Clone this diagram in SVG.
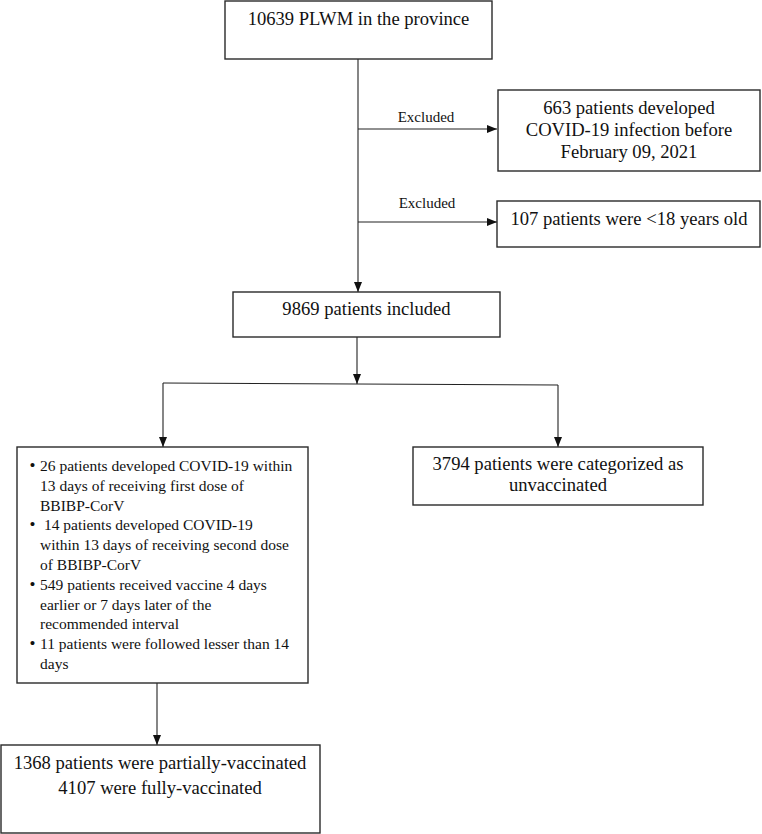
<svg xmlns="http://www.w3.org/2000/svg" width="762" height="834" viewBox="0 0 762 834">
<style>
  .box { fill: #ffffff; stroke: #2a2a2a; stroke-width: 1.4; }
  .t { font-family: "Liberation Serif", "Times New Roman", serif; font-size: 18.6px; fill: #111; text-anchor: middle; }
  .s { font-family: "Liberation Serif", "Times New Roman", serif; font-size: 15.5px; fill: #111; }
  .b { font-family: "Liberation Serif", "Times New Roman", serif; font-size: 17px; fill: #111; }
  .lab { font-family: "Liberation Serif", "Times New Roman", serif; font-size: 15px; fill: #111; text-anchor: middle; }
  .c { stroke: #222; stroke-width: 1.1; fill: none; }
  .ca { stroke: #222; stroke-width: 1.1; fill: none; marker-end: url(#ah); }
</style>
<defs>
  <marker id="ah" markerWidth="10" markerHeight="8" refX="10" refY="4" orient="auto" markerUnits="userSpaceOnUse">
    <path d="M0,0 L10,4 L0,8 z" fill="#111"/>
  </marker>
</defs>
<rect width="762" height="834" fill="#ffffff"/>

<g id="connectors">
  <line class="ca" x1="358" y1="59" x2="358" y2="292"/>
  <line class="ca" x1="358" y1="129" x2="497" y2="129"/>
  <line class="ca" x1="358" y1="222" x2="497" y2="222"/>
  <line class="ca" x1="357" y1="337" x2="357" y2="384"/>
  <line class="c" x1="163" y1="383" x2="558" y2="385"/>
  <line class="ca" x1="163" y1="383" x2="163" y2="447"/>
  <line class="ca" x1="558" y1="385" x2="558" y2="447"/>
  <line class="ca" x1="157" y1="683" x2="157" y2="745"/>
  <text class="lab" x="426" y="122">Excluded</text>
  <text class="lab" x="427" y="208">Excluded</text>
</g>

<g id="n-total">
  <rect class="box" x="225" y="1" width="267" height="58"/>
  <text class="t" x="358.5" y="25">10639 PLWM in the province</text>
</g>

<g id="n-excl-covid">
  <rect class="box" x="498" y="90" width="262" height="81"/>
  <text class="t" x="629" y="114">663 patients developed</text>
  <text class="t" x="629" y="136">COVID-19 infection before</text>
  <text class="t" x="629" y="158">February 09, 2021</text>
</g>

<g id="n-excl-age">
  <rect class="box" x="497" y="201" width="263" height="46"/>
  <text class="t" x="629" y="225">107 patients were &lt;18 years old</text>
</g>

<g id="n-included">
  <rect class="box" x="233" y="292" width="267" height="45"/>
  <text class="t" x="366.5" y="315">9869 patients included</text>
</g>

<g id="n-excl-list">
  <rect class="box" x="17" y="447" width="291" height="236"/>
  <text class="b" x="29.5" y="471">•</text>
  <text class="s" x="40" y="471">26 patients developed COVID-19 within</text>
  <text class="s" x="40" y="490.8">13 days of receiving first dose of</text>
  <text class="s" x="40" y="510.6">BBIBP-CorV</text>
  <text class="b" x="29.5" y="530.4">•</text>
  <text class="s" x="40" y="530.4" xml:space="preserve"> 14 patients developed COVID-19</text>
  <text class="s" x="40" y="550.2">within 13 days of receiving second dose</text>
  <text class="s" x="40" y="570">of BBIBP-CorV</text>
  <text class="b" x="29.5" y="589.8">•</text>
  <text class="s" x="40" y="589.8">549 patients received vaccine 4 days</text>
  <text class="s" x="40" y="609.6">earlier or 7 days later of the</text>
  <text class="s" x="40" y="629.4">recommended interval</text>
  <text class="b" x="29.5" y="649.2">•</text>
  <text class="s" x="40" y="649.2">11 patients were followed lesser than 14</text>
  <text class="s" x="40" y="669">days</text>
</g>

<g id="n-unvacc">
  <rect class="box" x="413" y="447" width="290" height="58"/>
  <text class="t" x="558" y="470">3794 patients were categorized as</text>
  <text class="t" x="558" y="491">unvaccinated</text>
</g>

<g id="n-vacc">
  <rect class="box" x="1" y="745" width="319" height="88"/>
  <text class="t" x="160" y="769">1368 patients were partially-vaccinated</text>
  <text class="t" x="160" y="794">4107 were fully-vaccinated</text>
</g>
</svg>
